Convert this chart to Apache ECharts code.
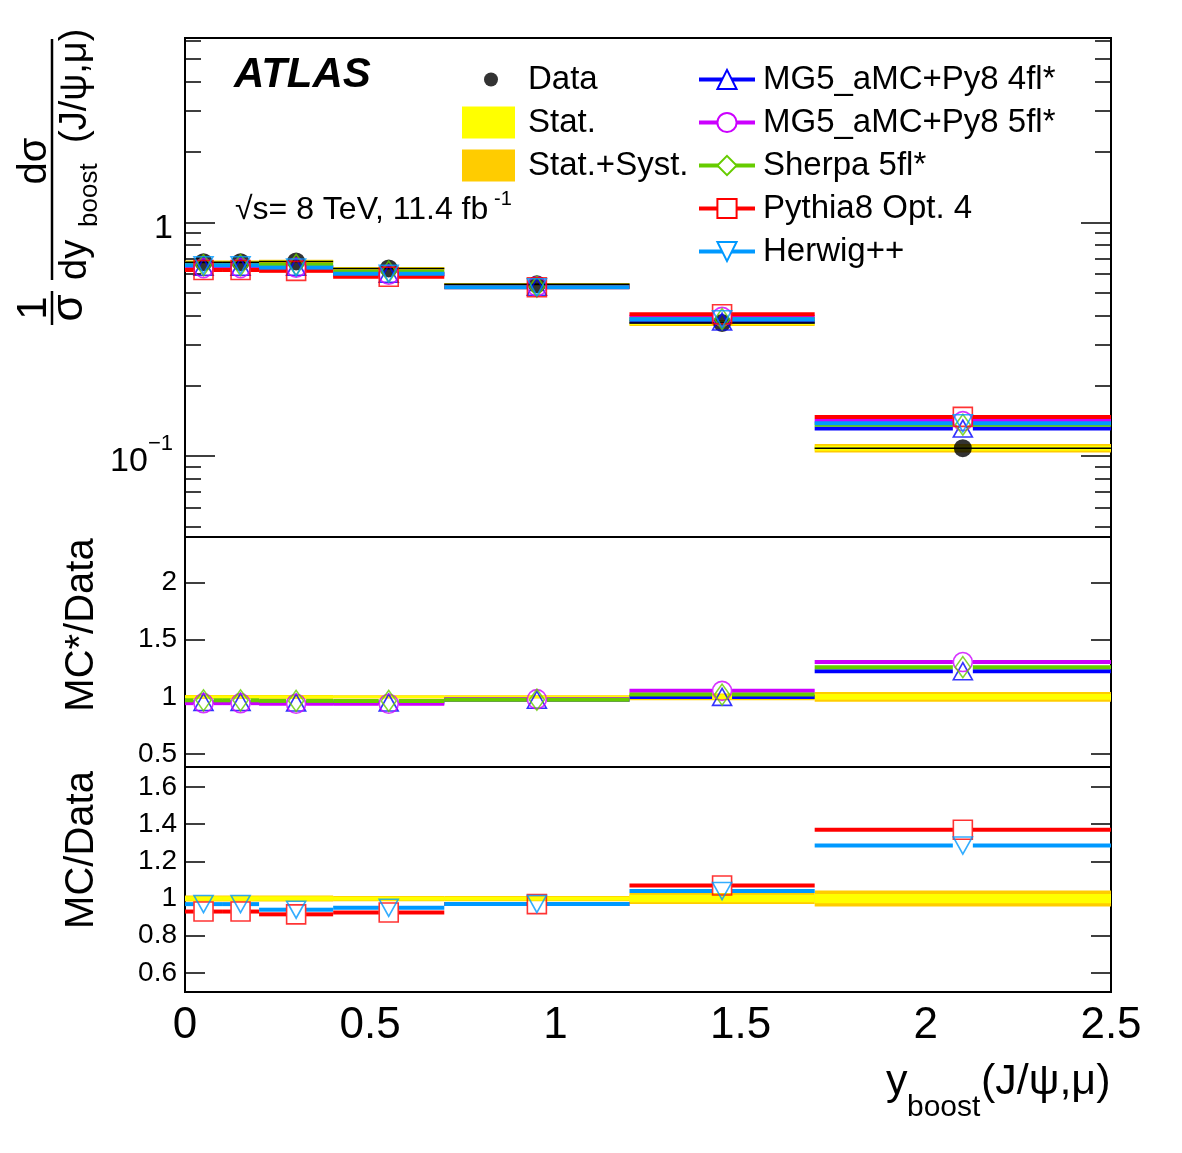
<!DOCTYPE html>
<html>
<head>
<meta charset="utf-8">
<script src="https://cdn.jsdelivr.net/npm/echarts@6/dist/echarts.min.js"></script>
<style>
html, body { margin: 0; padding: 0; background: #fff; }
#chart { width: 1182px; height: 1153px; }
</style>
</head>
<body>
<div id="chart"></div>
<script>
// bin edges in y_boost(J/psi,mu)
const binEdges = [0, 0.1, 0.2, 0.4, 0.7, 1.2, 1.7, 2.5];

// top panel: 1/sigma dsigma/dy_boost
const dataVals = [0.675, 0.675, 0.68, 0.635, 0.543, 0.371, 0.108];
const statErr = [0.012, 0.012, 0.012, 0.01, 0.01, 0.02, 0.025];
const totErr = [0.016, 0.016, 0.016, 0.014, 0.014, 0.03, 0.043];
const mg4Vals = [0.645, 0.645, 0.645, 0.603, 0.53, 0.376, 0.131];
const mg5Vals = [0.637, 0.637, 0.64, 0.597, 0.532, 0.394, 0.141];
const sherpaVals = [0.656, 0.656, 0.658, 0.615, 0.53, 0.385, 0.136];
const py8Vals = [0.625, 0.625, 0.62, 0.585, 0.527, 0.404, 0.147];
const herwigVals = [0.655, 0.655, 0.64, 0.603, 0.527, 0.385, 0.138];

// middle panel: MC*/Data
const mg4Ratio = [0.955, 0.955, 0.95, 0.95, 0.975, 1.0, 1.225];
const mg5Ratio = [0.945, 0.945, 0.94, 0.94, 0.98, 1.053, 1.305];
const sherpaRatio = [0.97, 0.97, 0.965, 0.965, 0.975, 1.02, 1.26];

// bottom panel: MC/Data
const py8Ratio = [0.93, 0.93, 0.915, 0.925, 0.97, 1.07, 1.37];
const herwigRatio = [0.97, 0.97, 0.94, 0.95, 0.97, 1.04, 1.285];

// tick values
const yTicksTop = [0.1, 1];
const yMinorTop = [0.05, 0.06, 0.07, 0.08, 0.09, 0.2, 0.3, 0.4, 0.5, 0.6, 0.7, 0.8, 0.9, 2, 3, 4, 5, 6];
const yTicksMid = [0.5, 1, 1.5, 2];
const yTicksLow = [0.6, 0.8, 1, 1.2, 1.4, 1.6];

const FONT = 'Liberation Sans, Arial, Helvetica, sans-serif';
const YELLOW = '#ffff00';
const GOLD = '#ffcc00';

const models = {
    mg4: { name: 'MG5_aMC+Py8 4fl*', color: '#0000ff', symbol: 'triangle', size: [19, 17], rotate: 0 },
    mg5: { name: 'MG5_aMC+Py8 5fl*', color: '#cc00ff', symbol: 'circle', size: 19, rotate: 0 },
    sherpa: { name: 'Sherpa 5fl*', color: '#66cc00', symbol: 'diamond', size: [15, 21], rotate: 0 },
    py8: { name: 'Pythia8 Opt. 4', color: '#ff0000', symbol: 'rect', size: 19, rotate: 0 },
    herwig: { name: 'Herwig++', color: '#0099ff', symbol: 'triangle', size: [19, 17], rotate: 180 }
};

const binCenter = i => (binEdges[i] + binEdges[i + 1]) / 2;
const yIdx = idx => (idx === 0 ? 0 : idx * 2 + 2);

// horizontal bin segments, with a gap where the marker sits
const stepSeries = (name, color, width, vals, idx, gap, z) => ({
    type: 'custom', name, xAxisIndex: idx, yAxisIndex: yIdx(idx),
    silent: true, z,
    itemStyle: { color },
    data: vals.map((v, i) => [binEdges[i], binEdges[i + 1], v]),
    encode: { x: [0, 1], y: 2 },
    renderItem: (params, api) => {
        const a = api.coord([api.value(0), api.value(2)]);
        const b = api.coord([api.value(1), api.value(2)]);
        const m = (a[0] + b[0]) / 2;
        const style = { stroke: color, lineWidth: width };
        if (!gap) {
            return { type: 'line', shape: { x1: a[0], y1: a[1], x2: b[0], y2: b[1] }, style };
        }
        return {
            type: 'group', children: [
                { type: 'line', shape: { x1: a[0], y1: a[1], x2: m - gap, y2: a[1] }, style },
                { type: 'line', shape: { x1: m + gap, y1: a[1], x2: b[0], y2: a[1] }, style }
            ]
        };
    }
});

// error band around the data (centre = data values, or 1 in the ratio panels)
const bandSeries = (name, color, centre, errs, idx) => ({
    type: 'custom', name, xAxisIndex: idx, yAxisIndex: yIdx(idx),
    silent: true, z: 1,
    itemStyle: { color },
    data: errs.map((e, i) => {
        const c = centre ? centre[i] : 1;
        return [binEdges[i], binEdges[i + 1], c * (1 + e), c * (1 - e)];
    }),
    encode: { x: [0, 1], y: [2, 3] },
    renderItem: (params, api) => {
        const a = api.coord([api.value(0), api.value(2)]);
        const b = api.coord([api.value(1), api.value(3)]);
        return {
            type: 'rect',
            shape: { x: a[0], y: a[1], width: b[0] - a[0], height: b[1] - a[1] },
            style: { fill: color }
        };
    }
});

const markerSeries = (m, vals, idx) => ({
    type: 'scatter', name: m.name, xAxisIndex: idx, yAxisIndex: yIdx(idx),
    silent: true, z: 6,
    symbol: m.symbol, symbolSize: m.size, symbolRotate: m.rotate,
    itemStyle: { color: 'rgba(0,0,0,0)', borderColor: m.color, borderWidth: 1.6 },
    emphasis: { disabled: true },
    data: vals.map((v, i) => [binCenter(i), v])
});

// line series without data, only there to give the legend its line + marker icon
const legendSeries = m => ({
    type: 'line', name: m.name, data: [], xAxisIndex: 0, yAxisIndex: 0,
    symbol: 'empty' + m.symbol[0].toUpperCase() + m.symbol.slice(1),
    symbolRotate: m.rotate,
    lineStyle: { color: m.color, width: 4 },
    itemStyle: { color: m.color }
});

const xAxisFor = i => ({
    type: 'value', gridIndex: i, min: 0, max: 2.5, interval: 0.5,
    axisLine: { show: false },
    splitLine: { show: false },
    axisTick: { show: false },
    axisLabel: {
        show: i === 2, color: '#000', fontSize: 44, fontFamily: FONT, margin: 12,
        showMinLabel: true, showMaxLabel: true
    }
});

const yAxisFor = (grid, type, min, max, pos, ticks, len, labels) => ({
    type, gridIndex: grid, min, max, position: pos,
    axisLine: { show: false },
    splitLine: { show: false },
    minorTick: { show: false },
    axisTick: { inside: true, length: len, customValues: ticks, lineStyle: { color: '#000', width: 1.5 } },
    axisLabel: labels ? Object.assign({ show: true, customValues: ticks, color: '#000', fontFamily: FONT }, labels) : { show: false }
});

const topLabels = {
    fontSize: 34, margin: 12,
    formatter: v => (Math.abs(v - 1) < 1e-6 ? '{b|1}' : '{b|10}{s|−1}'),
    rich: {
        b: { fontSize: 34, lineHeight: 46, fontFamily: FONT, color: '#000', verticalAlign: 'bottom' },
        s: { fontSize: 22, lineHeight: 22, fontFamily: FONT, color: '#000', verticalAlign: 'top' }
    }
};
const ratioLabels = { fontSize: 28, margin: 8, formatter: v => String(Number(Number(v).toFixed(1))) };

const series = [
    legendSeries(models.mg4), legendSeries(models.mg5), legendSeries(models.sherpa),
    legendSeries(models.py8), legendSeries(models.herwig),

    // top panel
    bandSeries('Stat.+Syst.', GOLD, dataVals, totErr, 0),
    bandSeries('Stat.', YELLOW, dataVals, statErr, 0),
    stepSeries(models.mg4.name, models.mg4.color, 4, mg4Vals, 0, 10, 2),
    stepSeries(models.mg5.name, models.mg5.color, 4, mg5Vals, 0, 10, 2),
    stepSeries(models.sherpa.name, models.sherpa.color, 4, sherpaVals, 0, 10, 2),
    stepSeries(models.py8.name, models.py8.color, 4, py8Vals, 0, 10, 2),
    stepSeries(models.herwig.name, models.herwig.color, 4, herwigVals, 0, 10, 2),
    stepSeries('data line', '#000', 1.5, dataVals, 0, 0, 3),
    {
        type: 'scatter', name: 'Data', xAxisIndex: 0, yAxisIndex: 0, silent: true, z: 4,
        symbol: 'circle', symbolSize: 18, itemStyle: { color: '#000' },
        emphasis: { disabled: true },
        data: dataVals.map((v, i) => [binCenter(i), v])
    },
    markerSeries(models.mg4, mg4Vals, 0),
    markerSeries(models.mg5, mg5Vals, 0),
    markerSeries(models.sherpa, sherpaVals, 0),
    markerSeries(models.py8, py8Vals, 0),
    markerSeries(models.herwig, herwigVals, 0),

    // middle panel
    bandSeries('Stat.+Syst.', GOLD, null, totErr, 1),
    bandSeries('Stat.', YELLOW, null, statErr, 1),
    stepSeries(models.mg4.name, models.mg4.color, 4, mg4Ratio, 1, 10, 2),
    stepSeries(models.mg5.name, models.mg5.color, 4, mg5Ratio, 1, 10, 2),
    stepSeries(models.sherpa.name, models.sherpa.color, 4, sherpaRatio, 1, 10, 2),
    markerSeries(models.mg4, mg4Ratio, 1),
    markerSeries(models.mg5, mg5Ratio, 1),
    markerSeries(models.sherpa, sherpaRatio, 1),

    // bottom panel
    bandSeries('Stat.+Syst.', GOLD, null, totErr, 2),
    bandSeries('Stat.', YELLOW, null, statErr, 2),
    stepSeries(models.py8.name, models.py8.color, 4, py8Ratio, 2, 10, 2),
    stepSeries(models.herwig.name, models.herwig.color, 4, herwigRatio, 2, 10, 2),
    markerSeries(models.py8, py8Ratio, 2),
    markerSeries(models.herwig, herwigRatio, 2)
];

const legendText = { color: '#000', fontSize: 33, fontFamily: FONT, lineHeight: 33 };

const txt = (x, y, text, size, extra) => ({
    type: 'text', x, y, silent: true,
    style: Object.assign({
        text, fill: '#000', font: size + 'px ' + FONT,
        textAlign: 'left', textVerticalAlign: 'middle', align: 'left', verticalAlign: 'middle'
    }, extra || {})
});

const yTitleMid = txt(82, 625, 'MC*/Data', 40, { textAlign: 'center', align: 'center' });
const yTitleLow = txt(82, 850, 'MC/Data', 40, { textAlign: 'center', align: 'center' });
yTitleMid.rotation = Math.PI / 2;
yTitleLow.rotation = Math.PI / 2;

const option = {
    backgroundColor: '#fff',
    animation: false,
    grid: [
        { left: 185, top: 38, width: 926, height: 499, show: true, borderColor: '#000', borderWidth: 2, backgroundColor: 'transparent' },
        { left: 185, top: 537, width: 926, height: 230, show: true, borderColor: '#000', borderWidth: 2, backgroundColor: 'transparent' },
        { left: 185, top: 767, width: 926, height: 225, show: true, borderColor: '#000', borderWidth: 2, backgroundColor: 'transparent' }
    ],
    xAxis: [xAxisFor(0), xAxisFor(1), xAxisFor(2)],
    yAxis: [
        yAxisFor(0, 'log', 0.045, 6.15, 'left', yTicksTop, 30, topLabels),
        yAxisFor(0, 'log', 0.045, 6.15, 'left', yMinorTop, 16),
        yAxisFor(0, 'log', 0.045, 6.15, 'right', yTicksTop, 30),
        yAxisFor(0, 'log', 0.045, 6.15, 'right', yMinorTop, 16),
        yAxisFor(1, 'value', 0.386, 2.4, 'left', yTicksMid, 20, ratioLabels),
        yAxisFor(1, 'value', 0.386, 2.4, 'right', yTicksMid, 20),
        yAxisFor(2, 'value', 0.497, 1.708, 'left', yTicksLow, 20, ratioLabels),
        yAxisFor(2, 'value', 0.497, 1.708, 'right', yTicksLow, 20)
    ],
    legend: [
        {
            left: 484, top: 63, orient: 'vertical', padding: 0, selectedMode: false,
            icon: 'circle', itemWidth: 14, itemHeight: 14,
            textStyle: Object.assign({ padding: [0, 0, 0, 25] }, legendText), data: ['Data']
        },
        {
            left: 462, top: 106, orient: 'vertical', padding: 0, selectedMode: false,
            icon: 'rect', itemWidth: 53, itemHeight: 32, itemGap: 10,
            textStyle: Object.assign({ padding: [0, 0, 0, 8] }, legendText),
            data: ['Stat.', 'Stat.+Syst.']
        },
        {
            left: 697, top: 63, orient: 'vertical', padding: 0, selectedMode: false,
            itemWidth: 56, itemHeight: 24, itemGap: 10,
            lineStyle: { width: 4 },
            textStyle: Object.assign({ padding: [0, 0, 0, 3] }, legendText),
            data: [models.mg4.name, models.mg5.name, models.sherpa.name, models.py8.name, models.herwig.name]
        }
    ],
    graphic: [
        txt(234, 75, 'ATLAS', 42, { font: 'italic bold 42px ' + FONT }),
        txt(235, 210, '√s= 8 TeV, 11.4 fb', 32),
        txt(494, 199, '-1', 20),

        // y title, top panel: 1/sigma dsigma/dy_boost(J/psi,mu)
        {
            type: 'group', x: 52, y: 335, rotation: Math.PI / 2, silent: true,
            children: [
                { type: 'line', shape: { x1: 10, y1: 0, x2: 44, y2: 0 }, style: { stroke: '#000', lineWidth: 2.5 } },
                txt(27, -18, '1', 42, { textAlign: 'center', align: 'center' }),
                txt(27, 18, 'σ', 44, { textAlign: 'center', align: 'center' }),
                { type: 'line', shape: { x1: 55, y1: 0, x2: 296, y2: 0 }, style: { stroke: '#000', lineWidth: 2.5 } },
                txt(174, -17, 'dσ', 40, { textAlign: 'center', align: 'center' }),
                txt(55, 24, 'dy', 38),
                txt(108, 38, 'boost', 26),
                txt(192, 24, '(J/ψ,μ)', 38)
            ]
        },
        yTitleMid,
        yTitleLow,
        // x title
        txt(886, 1082, 'y', 43),
        txt(907, 1108, 'boost', 30),
        txt(981, 1082, '(J/ψ,μ)', 43)
    ],
    series
};

const myChart = echarts.init(document.getElementById('chart'), null, { renderer: 'canvas' });
myChart.setOption(option);
</script>
</body>
</html>
